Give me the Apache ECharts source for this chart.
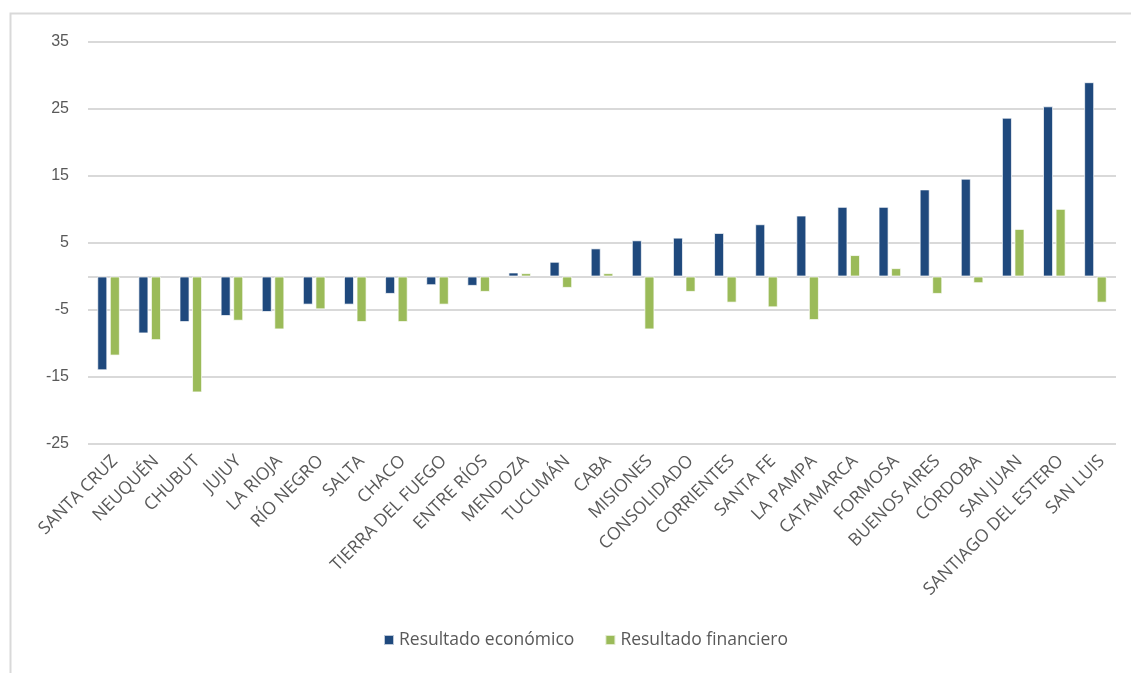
<!DOCTYPE html>
<html>
<head>
<meta charset="utf-8">
<script src="https://cdn.jsdelivr.net/npm/echarts@6/dist/echarts.min.js"></script>
<style>html,body{margin:0;padding:0;background:#fff}#c{width:1131px;height:673px}</style>
</head>
<body>
<div id="c"></div>
<script>
const categories = ["SANTA CRUZ","NEUQUÉN","CHUBUT","JUJUY","LA RIOJA","RÍO NEGRO","SALTA","CHACO","TIERRA DEL FUEGO","ENTRE RÍOS","MENDOZA","TUCUMÁN","CABA","MISIONES","CONSOLIDADO","CORRIENTES","SANTA FE","LA PAMPA","CATAMARCA","FORMOSA","BUENOS AIRES","CÓRDOBA","SAN JUAN","SANTIAGO DEL ESTERO","SAN LUIS"];
const resultadoEconomico = [-14.0,-8.5,-6.8,-5.9,-5.3,-4.2,-4.2,-2.6,-1.3,-1.4,0.6,2.2,4.2,5.4,5.8,6.5,7.8,9.1,10.4,10.4,13.0,14.6,23.7,25.4,29.0];
const resultadoFinanciero = [-11.8,-9.5,-17.3,-6.6,-7.9,-4.9,-6.8,-6.8,-4.2,-2.3,0.5,-1.7,0.5,-7.9,-2.3,-3.9,-4.6,-6.5,3.2,1.25,-2.6,-1.0,7.1,10.1,-3.9];
const seriesNames = ["Resultado económico","Resultado financiero"];
const yTicks = {min:-25, max:35, interval:10};

const chart = echarts.init(document.getElementById('c'), null, {renderer:'canvas'});
chart.setOption({
  animation:false,
  backgroundColor:'#fff',
  graphic:[{type:'rect', silent:true, z:-10, shape:{x:10.5,y:13.5,width:1300,height:800}, style:{fill:'none', stroke:'#d9d9d9', lineWidth:2}}],
  grid:{left:88, right:15, top:42, bottom:229, containLabel:false},
  legend:{
    data:seriesNames, bottom:19, left:378, itemWidth:10, itemHeight:10, itemGap:30,
    icon:'rect',
    textStyle:{fontFamily:'Open Sans', fontSize:17.5, color:'#595959'}
  },
  xAxis:{
    type:'category', data:categories,
    axisLine:{show:false, onZero:false}, axisTick:{show:false},
    axisLabel:{rotate:45, interval:0, margin:8, verticalAlign:'top', fontFamily:'Open Sans', fontSize:17.5, color:'#595959'},
    splitLine:{show:false}
  },
  yAxis:{
    type:'value', min:yTicks.min, max:yTicks.max, interval:yTicks.interval,
    axisLine:{show:false}, axisTick:{show:false},
    axisLabel:{margin:19, fontFamily:'Liberation Sans', fontSize:16, color:'#595959'},
    splitLine:{lineStyle:{color:'#d9d9d9', width:2}}
  },
  series:[
    {name:seriesNames[0], type:'bar', data:resultadoEconomico, barGap:'25%', barCategoryGap:'45%',
     itemStyle:{color:'#1F497D', borderColor:'rgba(255,255,255,0.7)', borderWidth:1},
     markLine:{silent:true, symbol:'none', label:{show:false}, lineStyle:{color:'#d9d9d9', width:2, type:'solid'}, data:[{yAxis:0}], animation:false, z:1}},
    {name:seriesNames[1], type:'bar', data:resultadoFinanciero,
     itemStyle:{color:'#9BBB59', borderColor:'rgba(255,255,255,0.7)', borderWidth:1}}
  ]
});
</script>
</body>
</html>
